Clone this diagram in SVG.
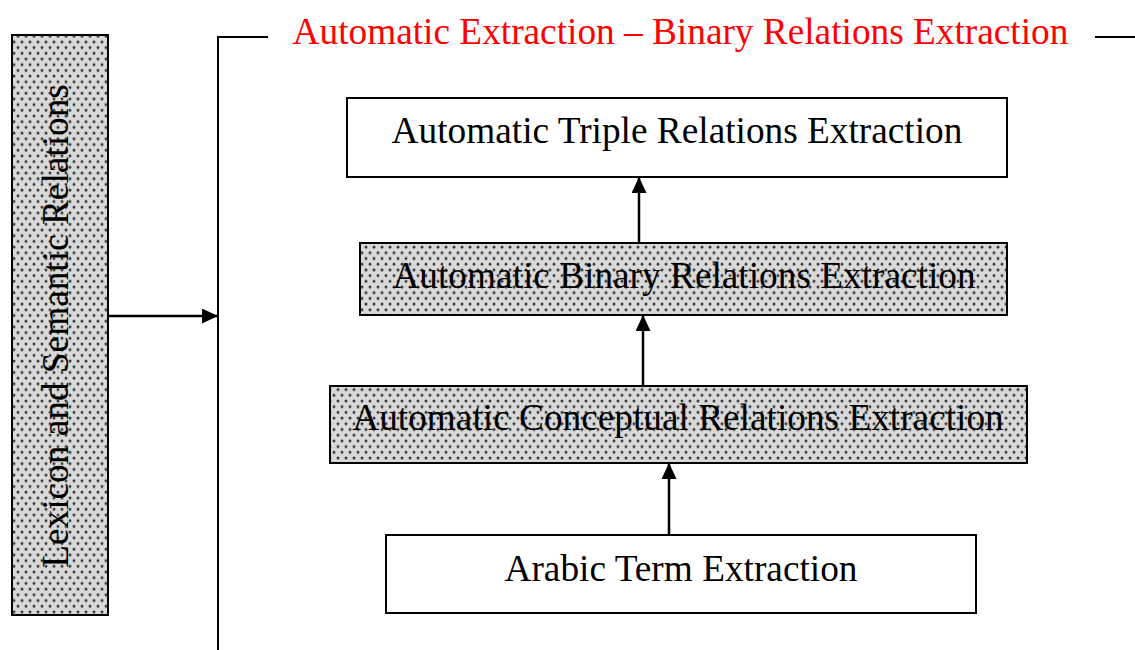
<svg xmlns="http://www.w3.org/2000/svg" width="1135" height="650" viewBox="0 0 1135 650">
  <style>
    .box { stroke: #000; stroke-width: 2; }
    .plain { fill: #fff; }
    .dotted { fill: url(#dots); }
    .lbl { font-family: "Liberation Serif", "Times New Roman", serif; font-size: 37.3px; fill: #000; text-anchor: middle; }
    .title { font-family: "Liberation Serif", "Times New Roman", serif; font-size: 37.3px; fill: #ff0000; text-anchor: middle; }
    .wire { stroke: #000; stroke-width: 2.5; fill: none; }
  </style>
  <defs>
    <pattern id="dots" width="8" height="11.4" patternUnits="userSpaceOnUse">
      <rect width="8" height="11.4" fill="#d9d9d9"/>
      <circle cx="2" cy="2" r="1.5" fill="#3a3a3a"/>
      <circle cx="6" cy="7.7" r="1.5" fill="#3a3a3a"/>
    </pattern>
    <marker id="headL" markerWidth="16" markerHeight="15" refX="15" refY="7.5" orient="auto" markerUnits="userSpaceOnUse" viewBox="0 0 16 15">
      <path d="M0,0 L16,7.5 L0,15 Z" fill="#000"/>
    </marker>
  </defs>

  <!-- side panel -->
  <g id="lexicon">
    <rect class="box dotted" x="12" y="35" width="96" height="580"/>
    <text class="lbl" transform="translate(68,326) rotate(-90)">Lexicon and Semantic Relations</text>
  </g>

  <!-- enclosing bracket with heading -->
  <g id="frame">
    <path d="M268,37 H218 V650" stroke="#000" stroke-width="2" fill="none"/>
    <line x1="1095" y1="37" x2="1135" y2="37" stroke="#000" stroke-width="2"/>
    <text class="title" x="680.5" y="44">Automatic Extraction – Binary Relations Extraction</text>
  </g>

  <g id="triple">
    <rect class="box plain" x="347" y="98" width="660" height="79"/>
    <text class="lbl" x="677" y="143">Automatic Triple Relations Extraction</text>
  </g>

  <g id="binary">
    <rect class="box dotted" x="360" y="243" width="647" height="72"/>
    <text class="lbl" x="684" y="288">Automatic Binary Relations Extraction</text>
  </g>

  <g id="conceptual">
    <rect class="box dotted" x="330" y="386" width="697" height="77"/>
    <text class="lbl" x="678" y="430">Automatic Conceptual Relations Extraction</text>
  </g>

  <g id="term">
    <rect class="box plain" x="386" y="535" width="590" height="78"/>
    <text class="lbl" x="681" y="581">Arabic Term Extraction</text>
  </g>

  <g id="connectors">
    <line class="wire" x1="108" y1="316" x2="217" y2="316" marker-end="url(#headL)"/>
    <line class="wire" x1="639" y1="243" x2="639" y2="178" marker-end="url(#headL)"/>
    <line class="wire" x1="643" y1="386" x2="643" y2="316" marker-end="url(#headL)"/>
    <line class="wire" x1="669" y1="535" x2="669" y2="464" marker-end="url(#headL)"/>
  </g>
</svg>
